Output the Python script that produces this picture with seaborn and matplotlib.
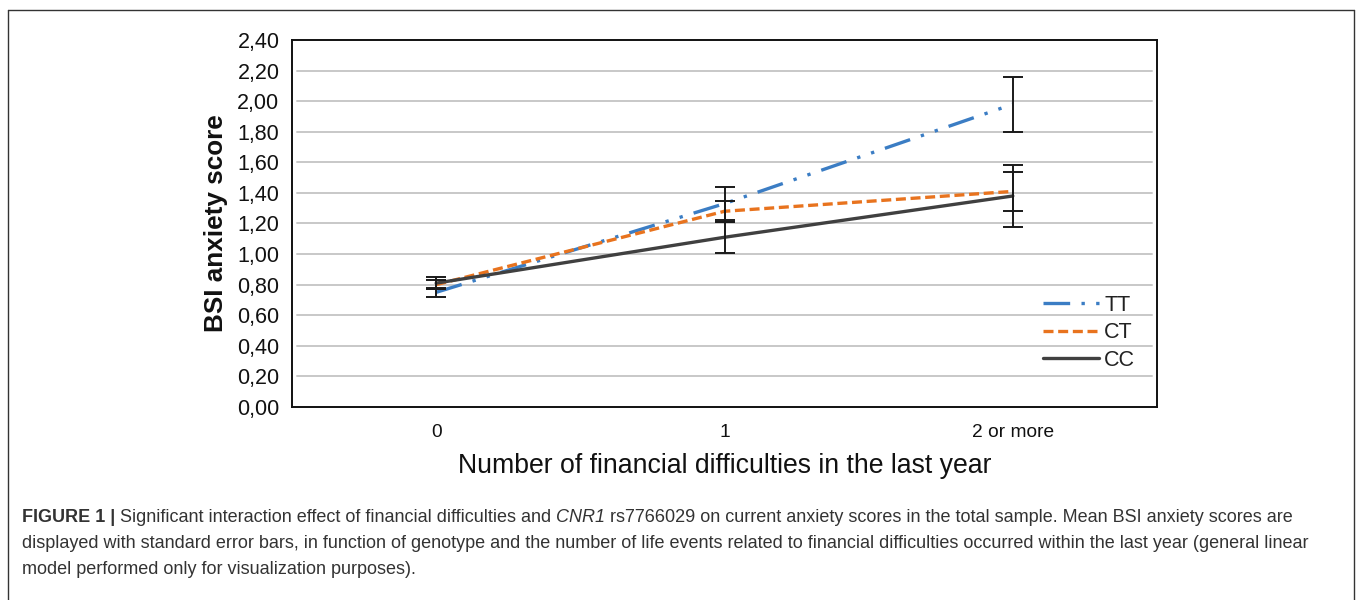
import matplotlib
matplotlib.use("Agg")
import matplotlib.pyplot as plt
from matplotlib.lines import Line2D
import seaborn as sns
import pandas as pd

# Mean BSI anxiety scores with standard errors per genotype
categories = ["0", "1", "2 or more"]
genotypes = ["TT", "CT", "CC"]
tt_mean = [0.75, 1.33, 1.98]
tt_se = [0.03, 0.11, 0.18]
ct_mean = [0.80, 1.28, 1.41]
ct_se = [0.03, 0.07, 0.13]
cc_mean = [0.81, 1.11, 1.38]
cc_se = [0.04, 0.10, 0.20]
y_ticks = [0.0, 0.2, 0.4, 0.6, 0.8, 1.0, 1.2, 1.4, 1.6, 1.8, 2.0, 2.2, 2.4]

means = {"TT": tt_mean, "CT": ct_mean, "CC": cc_mean}
errors = {"TT": tt_se, "CT": ct_se, "CC": cc_se}

rows = []
for g in genotypes:
    for i, cat in enumerate(categories):
        rows.append({"pos": i, "cat": cat, "genotype": g,
                     "score": means[g][i], "se": errors[g][i]})
df = pd.DataFrame(rows)

sns.set_theme(style="white")
plt.rcParams["font.family"] = ["Liberation Sans", "DejaVu Sans"]

W, H = 1358, 600
fig = plt.figure(figsize=(W / 100, H / 100), dpi=100)
ax = fig.add_axes([292 / W, 1 - 407 / H, (1157 - 292) / W, (407 - 40) / H])

palette = {"TT": "#3b7dc4", "CT": "#e8731e", "CC": "#404040"}
dashes = {"TT": (8.0, 3.4, 1.0, 3.4, 1.0, 3.4), "CT": (3.0, 1.4), "CC": ""}

sns.lineplot(data=df, x="pos", y="score", hue="genotype", style="genotype",
             hue_order=genotypes, style_order=genotypes, palette=palette,
             dashes=dashes, linewidth=2.4, ax=ax, legend=False, zorder=3)

for g in genotypes:
    sub = df[df["genotype"] == g]
    ax.errorbar(sub["pos"], sub["score"], yerr=sub["se"], fmt="none",
                ecolor="#1a1a1a", elinewidth=1.4, capsize=7, capthick=1.4,
                zorder=4)

ax.set_xlim(-0.5, 2.5)
ax.set_ylim(0, 2.4)
ax.set_yticks(y_ticks)
ax.set_yticklabels([f"{v:.2f}".replace(".", ",") for v in y_ticks])
ax.set_xticks(range(len(categories)))
ax.set_xticklabels(categories)
ax.tick_params(axis="both", length=0, colors="#111111")
ax.tick_params(axis="y", pad=9, labelsize=15.5)
ax.tick_params(axis="x", pad=12, labelsize=13.8)

for yv in y_ticks[1:-1]:
    ax.axhline(yv, xmin=0.006, xmax=0.994, color="#c8c8c8", linewidth=1.4,
               zorder=1)
for s in ax.spines.values():
    s.set_color("#111111")
    s.set_linewidth(1.4)

ax.set_ylabel("BSI anxiety score", fontsize=18.8, fontweight="bold",
              color="#111111", labelpad=7)
ax.set_xlabel("Number of financial difficulties in the last year",
              fontsize=19.2, color="#111111", labelpad=9)

handles = [Line2D([], [], color=palette[g], linewidth=2.4,
                  dashes=dashes[g] if dashes[g] else (None, None))
           for g in genotypes]
handles[2] = Line2D([], [], color=palette["CC"], linewidth=2.4)
leg = ax.legend(handles, genotypes, loc="lower right",
                bbox_to_anchor=(0.997, 0.046), frameon=False,
                fontsize=15.5, handlelength=2.6, handletextpad=0.25,
                labelspacing=0.3)
for t in leg.get_texts():
    t.set_color("#222222")

# outer frame of the figure panel
frame_kw = dict(color="#333333", linewidth=1.0, transform=fig.transFigure)
fig.add_artist(Line2D([8 / W, 1354 / W], [1 - 10 / H, 1 - 10 / H], **frame_kw))
fig.add_artist(Line2D([8 / W, 8 / W], [1 - 10 / H, 0], **frame_kw))
fig.add_artist(Line2D([1354 / W, 1354 / W], [1 - 10 / H, 0], **frame_kw))

# caption with mixed styles
cap_size = 13.0
cap_color = "#333333"
lines = [
    [("FIGURE 1 | ", "bold", "normal"),
     ("Significant interaction effect of financial difficulties and ", "normal", "normal"),
     ("CNR1", "normal", "italic"),
     (" rs7766029 on current anxiety scores in the total sample. Mean BSI anxiety scores are", "normal", "normal")],
    [("displayed with standard error bars, in function of genotype and the number of life events related to financial difficulties occurred within the last year (general linear", "normal", "normal")],
    [("model performed only for visualization purposes).", "normal", "normal")],
]
line_y = [522, 548, 574]
fig.canvas.draw()
renderer = fig.canvas.get_renderer()
for parts, yy in zip(lines, line_y):
    x = 22 / W
    for txt, weight, style in parts:
        t = fig.text(x, 1 - yy / H, txt, fontsize=cap_size, fontweight=weight,
                     fontstyle=style, color=cap_color, va="baseline", ha="left")
        bb = t.get_window_extent(renderer=renderer)
        x += bb.width / W

fig.savefig("out.png", dpi=100, facecolor="white")
